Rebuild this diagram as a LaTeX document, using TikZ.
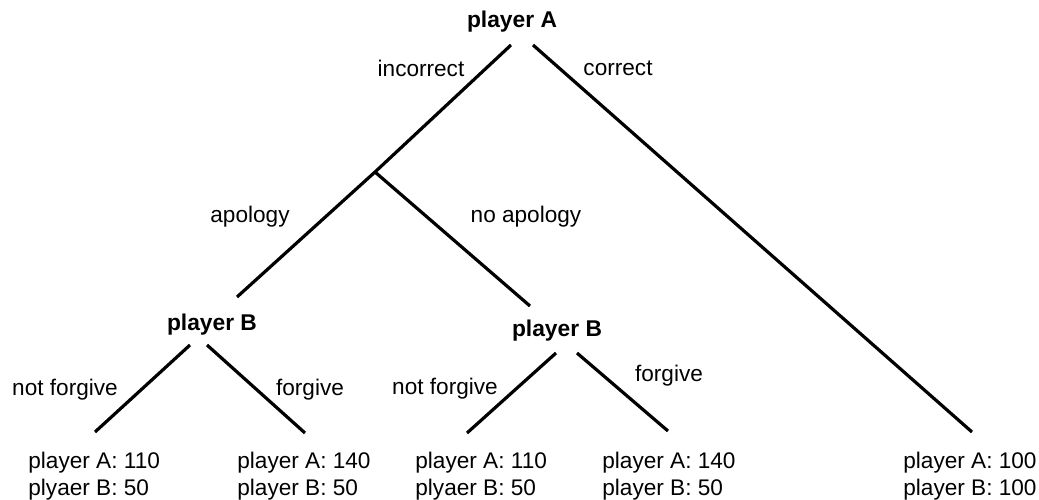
\documentclass[tikz,border=0pt]{standalone}
\usepackage{fontspec}
\setmainfont{Liberation Sans}

\begin{document}
\begin{tikzpicture}[
x=0.5pt, y=-0.5pt,
every node/.style = {inner sep=0pt, font=\fontsize{11.3}{13.5}\selectfont},
player/.style = {font=\fontsize{11.4}{13.5}\selectfont\bfseries},
payoff/.style = {anchor=west, align=left},
branch/.style = {line width=1.6pt}
                        ]
		    \useasboundingbox (0,0) rectangle (1039,499);
		    % decision nodes
		    \node[player] (pA) at (512,22) {player A};
		    \node[player] (pB1) at (212,325) {player B};
		    \node[player] (pB2) at (557,331) {player B};
		    % branch ends
		    \coordinate (rootL) at (511,45);
		    \coordinate (rootR) at (533,45);
		    \coordinate (fork) at (375,172);
		    \coordinate (apEnd) at (237,297);
		    \coordinate (noapEnd) at (530,306);
		    \coordinate (corEnd) at (972,432);
		    \coordinate (b1L) at (190,345);
		    \coordinate (b1Lend) at (95,432);
		    \coordinate (b1R) at (207,345);
		    \coordinate (b1Rend) at (305,433);
		    \coordinate (b2L) at (556,353);
		    \coordinate (b2Lend) at (467,433);
		    \coordinate (b2R) at (577,353);
		    \coordinate (b2Rend) at (668,431);
		    % labels
		    \node (inc) at (421,68) {incorrect};
		    \node (cor) at (618,68) {correct};
		    \node (ap) at (250,217) {apology};
		    \node (noap) at (526,217) {no apology};
		    \node (nf1) at (65,390) {not forgive};
		    \node (f1) at (310,390) {forgive};
		    \node (nf2) at (445,389) {not forgive};
		    \node (f2) at (669,376) {forgive};
		    % payoffs
		    \node[payoff] (o1) at (28,476) {player A: 110\\plyaer B: 50};
		    \node[payoff] (o2) at (237,476) {player A: 140\\player B: 50};
		    \node[payoff] (o3) at (415,476) {player A: 110\\plyaer B: 50};
		    \node[payoff] (o4) at (602,476) {player A: 140\\player B: 50};
		    \node[payoff] (o5) at (903,476) {player A: 100\\player B: 100};

		    \draw[branch]	(rootL) -- (fork) -- (apEnd)
		    		(fork) -- (noapEnd)
				(rootR) -- (corEnd)
				(b1L) -- (b1Lend)
				(b1R) -- (b1Rend)
				(b2L) -- (b2Lend)
				(b2R) -- (b2Rend);
	    \end{tikzpicture}
\end{document}
